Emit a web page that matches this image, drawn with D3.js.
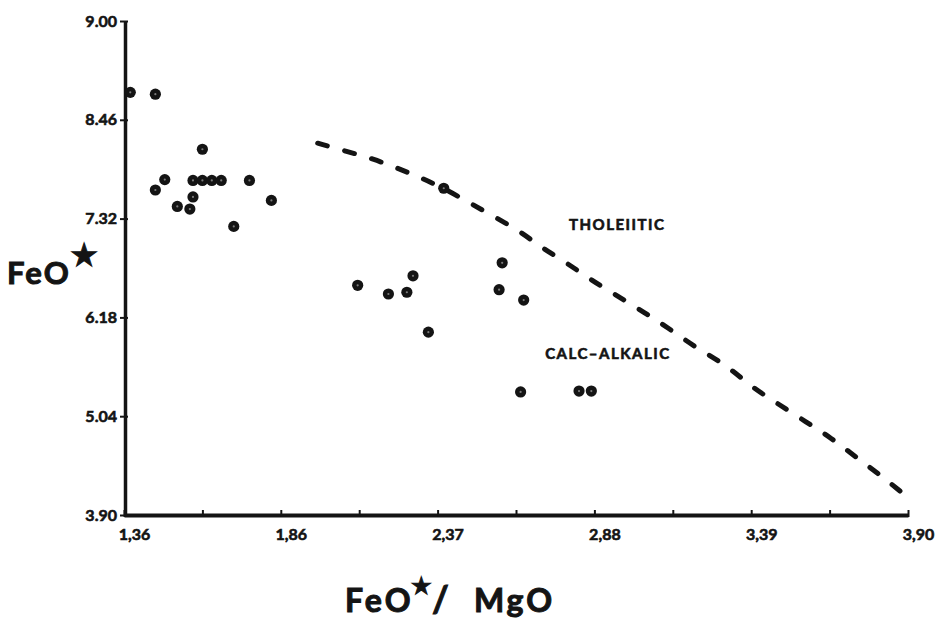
<!DOCTYPE html>
<html>
<head>
<meta charset="utf-8">
<script src="https://cdn.jsdelivr.net/npm/d3@7"></script>
<style>
  html, body { margin: 0; padding: 0; background: #fff; }
  svg { display: block; }
  text { font-family: Lato, "DejaVu Sans", sans-serif; fill: #141414; font-weight: bold;
         stroke: #141414; stroke-width: 0.6px; }
</style>
</head>
<body>
<div id="chart"></div>
<script>
// tick labels as printed on the figure (ticks are evenly spaced on paper)
const xTicks = [1.36, 1.86, 2.37, 2.88, 3.39, 3.90];
const xTickLabels = ['1,36', '1,86', '2,37', '2,88', '3,39', '3,90'];
const yTicks = [3.90, 5.04, 6.18, 7.32, 8.46, 9.00];
const yTickLabels = ['3.90', '5.04', '6.18', '7.32', '8.46', '9.00'];

// samples: FeO*/MgO ratio and FeO*
const ratio = [1.38, 1.46, 1.61, 1.49, 1.46, 1.58, 1.61, 1.64, 1.67, 1.76, 1.58, 1.53, 1.57, 1.83, 1.71,
               2.11, 2.21, 2.27, 2.29, 2.34, 2.39, 2.58, 2.57, 2.65, 2.64, 2.83, 2.87];
const feo = [8.61, 8.60, 8.12, 7.77, 7.65, 7.76, 7.76, 7.76, 7.76, 7.76, 7.57, 7.46, 7.43, 7.53, 7.23,
             6.55, 6.45, 6.47, 6.66, 6.01, 7.67, 6.81, 6.50, 6.38, 5.32, 5.33, 5.33];

// tholeiitic / calc-alkalic dividing line
const boundaryRatio = [1.98, 2.08, 2.16, 2.24, 2.31, 2.39, 2.47, 2.55, 2.64, 2.71, 2.79, 2.87,
                       2.95, 3.04, 3.12, 3.21, 3.31, 3.39, 3.47, 3.57, 3.65, 3.73, 3.81, 3.89];
const boundaryFeo = [8.19, 8.09, 8.01, 7.90, 7.80, 7.67, 7.51, 7.35, 7.17, 6.98, 6.81, 6.61,
                     6.44, 6.24, 6.06, 5.83, 5.63, 5.38, 5.20, 4.97, 4.79, 4.57, 4.36, 4.13];

const width = 950, height = 626;
const plot = { left: 124, right: 908, top: 21, bottom: 515 };
const ink = '#141414';

const svg = d3.select('#chart').append('svg')
  .attr('width', width)
  .attr('height', height);

// piecewise scales so the printed labels sit on evenly spaced ticks
const x = d3.scaleLinear()
  .domain(xTicks)
  .range(xTicks.map((d, i) => plot.left + i * (plot.right - plot.left) / (xTicks.length - 1)));
const y = d3.scaleLinear()
  .domain(yTicks)
  .range(yTicks.map((d, i) => plot.bottom - i * (plot.bottom - plot.top) / (yTicks.length - 1)));

function styleTickText(g) {
  g.selectAll('.tick text')
    .style('font-family', 'Lato, sans-serif')
    .style('font-size', '16px')
    .style('font-weight', 'bold')
    .style('fill', ink)
    .style('stroke', ink)
    .style('stroke-width', '0.6px');
}

// y axis
const yAxis = svg.append('g')
  .attr('transform', `translate(${plot.left + 1},0)`)
  .call(d3.axisLeft(y)
    .tickValues(yTicks)
    .tickFormat((d, i) => yTickLabels[i])
    .tickSize(5)
    .tickSizeOuter(0)
    .tickPadding(3));
yAxis.select('.domain').style('stroke', ink).style('stroke-width', '3.5px');
yAxis.selectAll('.tick line').attr('x1', 3).style('stroke', ink).style('stroke-width', '2px');
yAxis.call(styleTickText);

// x axis
const minor = d3.pairs(xTicks).map(([a, b]) => (a + b) / 2);
const xAxis = svg.append('g')
  .attr('transform', `translate(0,${plot.bottom})`)
  .call(d3.axisBottom(x)
    .tickValues(xTicks)
    .tickFormat((d, i) => xTickLabels[i])
    .tickSize(-5)
    .tickSizeOuter(0)
    .tickPadding(14));
xAxis.select('.domain').style('stroke', ink).style('stroke-width', '4px');
xAxis.selectAll('.tick line').attr('y1', 2).style('stroke', ink).style('stroke-width', '2px');
xAxis.selectAll('.tick text').attr('dx', 10);
xAxis.call(styleTickText);

const xMinor = svg.append('g')
  .attr('transform', `translate(0,${plot.bottom})`)
  .call(d3.axisBottom(x).tickValues(minor).tickSize(-5).tickFormat(''));
xMinor.select('.domain').remove();
xMinor.selectAll('.tick line').attr('y1', 2).style('stroke', ink).style('stroke-width', '2px');

// dividing line
const line = d3.line()
  .x((d, i) => x(boundaryRatio[i]))
  .y(d => y(d))
  .curve(d3.curveBasis);
svg.append('path')
  .datum(boundaryFeo)
  .attr('d', line)
  .attr('fill', 'none')
  .attr('stroke', ink)
  .attr('stroke-width', 5)
  .attr('stroke-linecap', 'round')
  .attr('stroke-dasharray', '10 18');

// samples
const pts = svg.append('g').selectAll('g')
  .data(ratio.map((r, i) => [r, feo[i]]))
  .join('g')
  .attr('transform', d => `translate(${x(d[0])},${y(d[1])})`);
pts.append('circle').attr('r', 5.6).attr('fill', ink);
pts.append('circle').attr('r', 1.1).attr('fill', '#7a7a7a');

// field labels
svg.append('text')
  .attr('x', x(2.954)).attr('y', y(7.258))
  .attr('text-anchor', 'middle').attr('dominant-baseline', 'central')
  .style('font-size', '15px').style('letter-spacing', '1.5px')
  .text('THOLEIITIC');
svg.append('text')
  .attr('x', x(2.924)).attr('y', y(5.769))
  .attr('text-anchor', 'middle').attr('dominant-baseline', 'central')
  .style('font-size', '15px').style('letter-spacing', '1.5px')
  .text('CALC–ALKALIC');

// axis titles
const yTitle = svg.append('text')
  .attr('x', 7).attr('y', 284)
  .style('font-size', '31px').style('letter-spacing', '2px').style('stroke-width', '1px');
yTitle.append('tspan').text('FeO');
yTitle.append('tspan').attr('dy', -18).attr('dx', -1)
  .style('font-family', '"DejaVu Sans", sans-serif').style('font-size', '32px').text('★');

const xTitle = svg.append('text')
  .attr('x', 345).attr('y', 612)
  .style('font-size', '32px').style('letter-spacing', '3px').style('stroke-width', '1px');
xTitle.append('tspan').text('FeO');
xTitle.append('tspan').attr('dy', -18).attr('dx', -3)
  .style('font-family', '"DejaVu Sans", sans-serif').style('font-size', '24px').style('letter-spacing', '0px').text('★');
xTitle.append('tspan').attr('dy', 18).style('font-size', '36px').text('/');
xTitle.append('tspan').attr('dx', 22).text('MgO');
</script>
</body>
</html>
